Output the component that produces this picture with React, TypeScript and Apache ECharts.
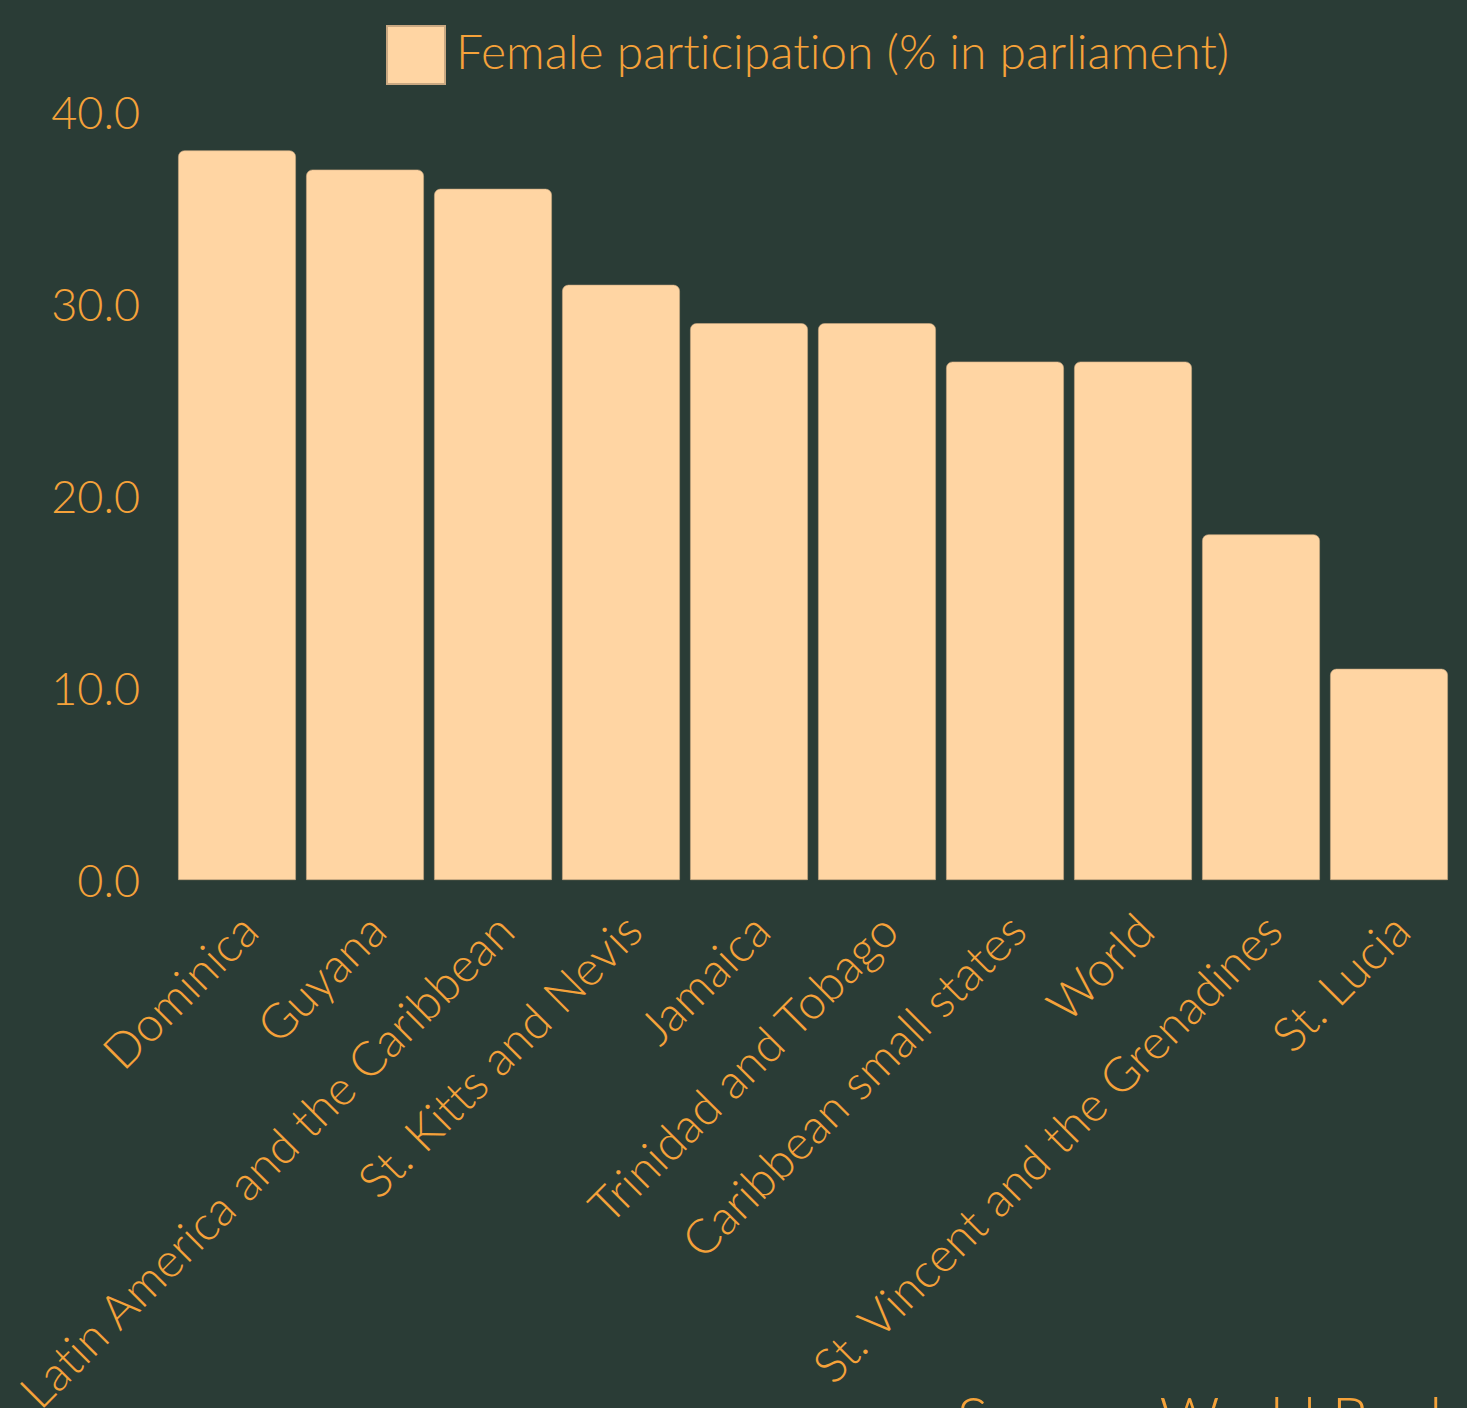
import React, { useEffect, useRef } from "react";
import * as echarts from "echarts";

const categories = [
  "Dominica",
  "Guyana",
  "Latin America and the Caribbean",
  "St. Kitts and Nevis",
  "Jamaica",
  "Trinidad and Tobago",
  "Caribbean small states",
  "World",
  "St. Vincent and the Grenadines",
  "St. Lucia",
];
const femaleParticipation = [38, 37, 36, 31, 29, 29, 27, 27, 18, 11];
const yTicks = { min: 0, max: 40, interval: 10 };

const BG = "#2a3c36";
const BAR = "#ffd5a3";
const TEXT = "#f5a23a";
const FONT = "Lato";
const WEIGHT = 300;
const SERIES_NAME = "Female participation (% in parliament)";

export default function App() {
  const ref = useRef<HTMLDivElement>(null);

  useEffect(() => {
    document.body.style.margin = "0";
    document.body.style.background = BG;
    // plain letter shapes, no "ti"/"fi" ligatures
    const css = document.createElement("style");
    css.textContent = "svg text { font-variant-ligatures: none; font-feature-settings: 'liga' 0; }";
    document.head.appendChild(css);

    const chart = echarts.init(ref.current!, null, { renderer: "svg" });
    chart.setOption({
      animation: false,
      backgroundColor: BG,
      textStyle: { fontFamily: FONT, fontWeight: WEIGHT },
      legend: {
        left: 381,
        top: 20,
        itemWidth: 58,
        itemHeight: 58,
        icon: "rect",
        data: [SERIES_NAME],
        formatter: "{t|{name}}",
        textStyle: {
          color: TEXT,
          fontFamily: FONT,
          fontWeight: WEIGHT,
          rich: {
            t: {
              color: TEXT,
              fontSize: 48,
              fontFamily: FONT,
              fontWeight: WEIGHT,
              padding: [0, 0, 10, 6],
            },
          },
        },
      },
      grid: {
        left: 173,
        right: 14,
        top: 112,
        bottom: 528,
        containLabel: false,
        outerBoundsMode: "none",
      },
      xAxis: {
        type: "category",
        data: categories,
        axisLine: { show: false },
        axisTick: { show: false },
        axisLabel: {
          interval: 0,
          rotate: 45,
          margin: 30,
          verticalAlign: "top",
          lineHeight: 32,
          color: TEXT,
          fontSize: 48,
          fontFamily: FONT,
          fontWeight: WEIGHT,
        },
      },
      yAxis: {
        type: "value",
        min: yTicks.min,
        max: yTicks.max,
        interval: yTicks.interval,
        splitLine: { show: false },
        axisLine: { show: false },
        axisTick: { show: false },
        axisLabel: {
          margin: 33,
          color: TEXT,
          fontSize: 45,
          fontFamily: FONT,
          fontWeight: WEIGHT,
          formatter: (v: number) => v.toFixed(1),
        },
      },
      series: [
        {
          name: SERIES_NAME,
          type: "bar",
          data: femaleParticipation,
          barCategoryGap: "8%",
          itemStyle: {
            color: BAR,
            borderRadius: [6, 6, 0, 0],
            borderColor: "#c9a882",
            borderWidth: 0.6,
          },
        },
      ],
      graphic: [
        {
          type: "text",
          right: 8,
          top: 1388,
          style: {
            text: "Source: World Bank",
            fill: TEXT,
            fontSize: 59,
            fontFamily: FONT,
            fontWeight: WEIGHT,
          },
        },
      ],
    });
    return () => {
      chart.dispose();
      css.remove();
    };
  }, []);

  return <div ref={ref} style={{ width: 1467, height: 1408 }} />;
}
